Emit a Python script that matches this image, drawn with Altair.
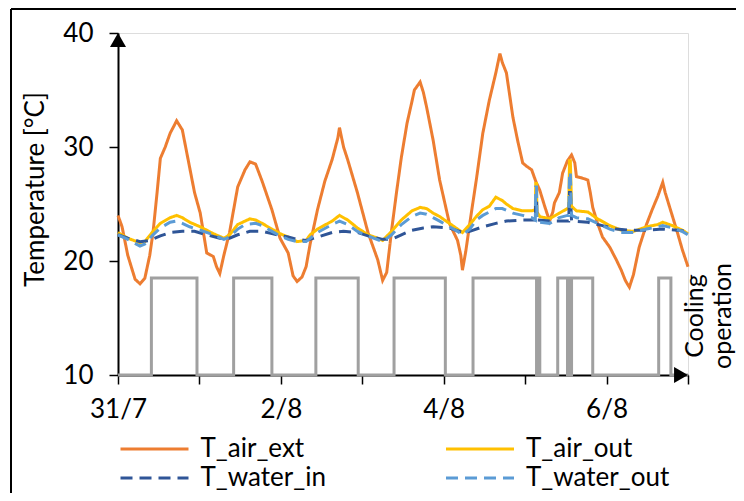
import altair as alt
import pandas as pd

FONT = "Lato"

series_names = ["T_air_ext", "T_air_out", "T_water_in", "T_water_out"]
series_colors = ["#ED7D31", "#FFC000", "#2F5597", "#5B9BD5"]
series_dash = [[1, 0], [1, 0], [12, 7], [12, 7]]

# days since 31/7 00:00
air_ext_day = [0.00, 0.05, 0.12, 0.21, 0.27, 0.33, 0.39, 0.43, 0.48, 0.52, 0.58, 0.64, 0.72, 0.79, 0.88,
               0.94, 1.01, 1.09, 1.17, 1.21, 1.25, 1.30, 1.37, 1.47, 1.56, 1.62, 1.69, 1.77, 1.89, 1.99,
               2.09, 2.15, 2.20, 2.26, 2.31, 2.36, 2.45, 2.54, 2.63, 2.70, 2.72, 2.77, 2.82, 2.94, 3.07,
               3.19, 3.25, 3.30, 3.36, 3.42, 3.48, 3.55, 3.61, 3.64, 3.71, 3.75, 3.79, 3.87, 3.95, 4.07,
               4.17, 4.21, 4.23, 4.27, 4.32, 4.40, 4.48, 4.56, 4.64, 4.69, 4.72, 4.77, 4.85, 4.91, 4.97,
               5.02, 5.08, 5.13, 5.18, 5.24, 5.30, 5.34, 5.36, 5.42, 5.46, 5.52, 5.57, 5.61, 5.63, 5.69,
               5.77, 5.80, 5.83, 5.89, 5.95, 6.04, 6.12, 6.18, 6.23, 6.28, 6.33, 6.40, 6.49, 6.56, 6.63,
               6.69, 6.72, 6.81, 6.87, 6.93, 7.00]
air_ext_temp = [24.0, 23.0, 20.5, 18.4, 18.0, 18.5, 20.5, 22.5, 26.0, 29.0, 30.0, 31.2, 32.3, 31.5, 28.2,
                26.0, 24.2, 20.7, 20.4, 19.5, 18.9, 20.5, 22.5, 26.5, 28.0, 28.7, 28.5, 27.0, 24.5, 22.0,
                20.7, 18.7, 18.2, 18.6, 19.5, 21.5, 24.5, 27.0, 28.9, 30.8, 31.7, 30.0, 28.9, 26.0, 22.5,
                20.1, 18.3, 19.0, 22.7, 26.0, 29.1, 32.1, 34.0, 35.0, 35.7, 34.8, 33.5, 30.6, 27.1, 23.3,
                21.8, 20.5, 19.2, 20.8, 23.3, 27.1, 31.2, 34.1, 36.5, 38.2, 37.4, 36.5, 32.6, 30.5, 28.6,
                28.3, 28.0, 27.0, 26.2, 24.8, 23.5, 24.3, 25.1, 26.0, 27.7, 28.8, 29.3, 28.6, 27.4, 27.3,
                27.1, 26.0, 24.7, 23.3, 22.1, 21.2, 20.1, 19.2, 18.3, 17.7, 18.8, 21.2, 23.2, 24.5, 25.7,
                26.9, 26.0, 23.9, 22.5, 21.0, 19.5]

air_out_day = [0.00, 0.12, 0.27, 0.33, 0.43, 0.52, 0.64, 0.72, 0.79, 0.88, 1.01, 1.17, 1.30, 1.37, 1.47,
               1.56, 1.62, 1.69, 1.77, 1.89, 1.99, 2.09, 2.20, 2.31, 2.36, 2.45, 2.63, 2.72, 2.82, 2.94,
               3.07, 3.19, 3.25, 3.36, 3.48, 3.61, 3.71, 3.79, 3.87, 3.95, 4.07, 4.17, 4.23, 4.32, 4.40,
               4.48, 4.56, 4.64, 4.72, 4.77, 4.85, 4.97, 5.08, 5.125, 5.13, 5.14, 5.145, 5.18, 5.30, 5.42,
               5.52, 5.535, 5.545, 5.555, 5.57, 5.63, 5.77, 5.89, 6.04, 6.18, 6.33, 6.49, 6.63, 6.69, 6.81,
               6.93, 7.00]
air_out_temp = [22.5, 22.0, 21.6, 21.7, 22.6, 23.3, 23.8, 24.0, 23.8, 23.4, 23.0, 22.4, 22.0, 22.3, 23.2,
                23.5, 23.7, 23.6, 23.3, 22.8, 22.4, 22.1, 21.7, 21.8, 22.3, 22.8, 23.5, 24.0, 23.6, 22.9,
                22.3, 22.0, 21.8, 22.6, 23.6, 24.4, 24.7, 24.6, 24.2, 23.9, 23.3, 22.8, 22.5, 23.2, 23.9,
                24.5, 24.8, 25.6, 25.3, 25.0, 24.6, 24.4, 24.4, 24.5, 26.8, 26.8, 24.3, 23.9, 23.7, 24.2,
                24.6, 24.6, 28.8, 28.8, 24.8, 24.4, 24.3, 23.7, 23.1, 22.7, 22.6, 23.0, 23.2, 23.4, 23.1,
                22.7, 22.4]

water_in_day = [0.00, 0.12, 0.27, 0.39, 0.52, 0.64, 0.79, 0.94, 1.09, 1.25, 1.37, 1.47, 1.62, 1.77, 1.89,
                2.09, 2.20, 2.31, 2.45, 2.63, 2.77, 2.94, 3.07, 3.25, 3.36, 3.48, 3.61, 3.75, 3.87, 4.07,
                4.23, 4.32, 4.48, 4.64, 4.77, 4.97, 5.08, 5.125, 5.13, 5.14, 5.145, 5.30, 5.42, 5.52, 5.535,
                5.545, 5.555, 5.57, 5.77, 5.95, 6.12, 6.28, 6.49, 6.69, 6.87, 7.00]
water_in_temp = [22.3, 22.0, 21.7, 21.8, 22.2, 22.5, 22.6, 22.6, 22.3, 22.0, 22.0, 22.3, 22.6, 22.6, 22.4,
                 22.1, 21.9, 21.8, 22.1, 22.5, 22.6, 22.5, 22.2, 21.9, 21.9, 22.3, 22.7, 22.9, 23.0, 22.9,
                 22.5, 22.6, 23.0, 23.3, 23.5, 23.6, 23.6, 23.6, 25.5, 25.5, 23.6, 23.5, 23.5, 23.5, 23.5,
                 26.0, 26.0, 23.5, 23.4, 23.1, 22.8, 22.7, 22.7, 22.8, 22.7, 22.6]

water_out_day = [0.00, 0.12, 0.27, 0.33, 0.43, 0.52, 0.64, 0.72, 0.79, 0.88, 1.01, 1.17, 1.30, 1.37, 1.47,
                 1.56, 1.69, 1.77, 1.89, 1.99, 2.09, 2.20, 2.31, 2.45, 2.63, 2.72, 2.82, 2.94, 3.07, 3.25,
                 3.36, 3.48, 3.61, 3.71, 3.79, 3.87, 3.95, 4.07, 4.17, 4.23, 4.32, 4.40, 4.48, 4.56, 4.64,
                 4.72, 4.85, 4.97, 5.08, 5.125, 5.13, 5.14, 5.145, 5.18, 5.30, 5.42, 5.52, 5.535, 5.545, 5.555,
                 5.57, 5.63, 5.77, 5.89, 6.04, 6.18, 6.33, 6.49, 6.63, 6.69, 6.81, 6.93, 7.00]
water_out_temp = [22.3, 21.9, 21.3, 21.5, 22.3, 22.9, 23.4, 23.5, 23.3, 23.0, 22.7, 22.3, 21.9, 22.1, 22.8,
                  23.2, 23.3, 23.1, 22.6, 22.2, 21.9, 21.7, 21.7, 22.5, 23.2, 23.5, 23.2, 22.6, 22.2, 21.7,
                  22.3, 23.2, 23.9, 24.2, 24.1, 23.8, 23.5, 23.0, 22.6, 22.3, 22.8, 23.6, 24.0, 24.3, 24.6,
                  24.6, 24.2, 24.0, 23.8, 23.6, 26.5, 26.5, 23.6, 23.4, 23.3, 23.8, 24.0, 24.0, 27.8, 27.8,
                  24.0, 23.8, 23.7, 23.3, 22.8, 22.5, 22.5, 22.8, 23.0, 23.1, 22.9, 22.6, 22.3]

cooling_day = [0.00, 0.41, 0.97, 1.42, 1.89, 2.43, 2.95, 3.39, 4.02, 4.36, 5.14, 5.155, 5.165, 5.175, 5.18,
               5.40, 5.52, 5.545, 5.555, 5.57, 5.83, 6.64, 6.79, 7.00]
cooling_val = [10, 18.5, 10, 18.5, 10, 18.5, 10, 18.5, 10, 18.5, 10, 18.5, 10, 18.5, 10,
               18.5, 10, 18.5, 10, 18.5, 10, 18.5, 10, 10]

x_tick_days = [0, 1, 2, 3, 4, 5, 6, 7]
x_tick_labels = ["31/7", "", "2/8", "", "4/8", "", "6/8", ""]
y_ticks = [10, 20, 30, 40]

frames = []
for name, d, t in [("T_air_ext", air_ext_day, air_ext_temp),
                   ("T_air_out", air_out_day, air_out_temp),
                   ("T_water_in", water_in_day, water_in_temp),
                   ("T_water_out", water_out_day, water_out_temp)]:
    frames.append(pd.DataFrame({"day": d, "temp": t, "series": name}))
lines_df = pd.concat(frames, ignore_index=True)
order_map = {"T_air_ext": 0, "T_air_out": 1, "T_water_out": 2, "T_water_in": 3}
lines_df["draw"] = lines_df["series"].map(order_map)

cool_df = pd.DataFrame({"day": cooling_day, "temp": cooling_val})

label_js = "[" + ",".join("'" + s + "'" for s in x_tick_labels) + "]"

x_scale = alt.Scale(domain=[0, 7], nice=False, zero=False)
y_scale = alt.Scale(domain=[10, 40], nice=False, zero=False)

x_axis = alt.Axis(values=x_tick_days, labelExpr=label_js + "[datum.value]", title=None, grid=False,
                  tickSize=9, tickWidth=1.5, tickColor="black", domainColor="black", domainWidth=2,
                  labelFontSize=26, labelFont=FONT, labelColor="black", labelPadding=12,
                  labelOverlap=False, labelFlush=False)
y_axis = alt.Axis(values=y_ticks, title="Temperature [°C]", grid=False, tickSize=9, tickWidth=1.5,
                  tickColor="black", domainColor="black", domainWidth=2, labelFontSize=26,
                  labelFont=FONT, labelColor="black", labelPadding=16, titleFont=FONT,
                  titleFontSize=26, titleFontWeight="normal", titleColor="black", titleAngle=-90,
                  titleAlign="center", titleBaseline="middle", titleX=-83, titleY=156)

cool = alt.Chart(cool_df).mark_line(interpolate="step-after", color="#A0A0A0", strokeWidth=3).encode(
    x=alt.X("day:Q", scale=x_scale, axis=x_axis),
    y=alt.Y("temp:Q", scale=y_scale, axis=y_axis),
)

# horizontal line symbol: path scaled by sqrt(size)/2 -> 8.5 * 8 = 68px long, entry height 17px
legend_kw = dict(title=None, orient="none", legendX=23.5, legendY=403, columns=2, direction="horizontal",
                 symbolType="M-4,0L4,0", symbolSize=289, symbolStrokeWidth=3, labelFont=FONT,
                 labelFontSize=26, labelColor="black", labelOffset=33, columnPadding=113.5,
                 rowPadding=3)

lines = alt.Chart(lines_df).mark_line(strokeWidth=3).encode(
    x=alt.X("day:Q", scale=x_scale),
    y=alt.Y("temp:Q", scale=y_scale),
    color=alt.Color("series:N", scale=alt.Scale(domain=series_names, range=series_colors),
                    legend=alt.Legend(**legend_kw)),
    strokeDash=alt.StrokeDash("series:N", scale=alt.Scale(domain=series_names, range=series_dash),
                              legend=alt.Legend(**legend_kw)),
    order=alt.Order("draw:Q"),
    detail="series:N",
)

one = pd.DataFrame({"k": [0]})

y_arrow = alt.Chart(one).mark_point(shape="triangle-up", size=256, filled=True, color="black",
                                     opacity=1, yOffset=7).encode(
    x=alt.datum(0, scale=x_scale), y=alt.datum(40, scale=y_scale))
x_arrow = alt.Chart(one).mark_point(shape="triangle-right", size=256, filled=True, color="black",
                                     opacity=1, xOffset=-7).encode(
    x=alt.datum(7, scale=x_scale), y=alt.datum(10, scale=y_scale))

cool_text = alt.Chart(pd.DataFrame({"t": ["Cooling\noperation"]})).mark_text(
    angle=270, lineBreak="\n", align="center", baseline="middle", font=FONT, fontSize=25,
    color="black", lineHeight=28).encode(x=alt.value(577), y=alt.value(283), text="t:N")

border_left = alt.Chart(one).mark_rule(color="black", strokeWidth=2).encode(
    x=alt.value(-107), y=alt.value(-24), y2=alt.value(470))
border_top = alt.Chart(one).mark_rule(color="black", strokeWidth=2).encode(
    x=alt.value(-107), x2=alt.value(620), y=alt.value(-24))

chart = alt.layer(cool, lines, y_arrow, x_arrow, cool_text, border_left, border_top).properties(
    width=570, height=342,
    autosize=alt.AutoSizeParams(type="none"),
    padding={"left": 110, "top": 25, "right": 48, "bottom": 118},
).configure_view(stroke=None).configure(font=FONT)

chart.save("out.html", embed_options={"renderer": "svg", "actions": False})
